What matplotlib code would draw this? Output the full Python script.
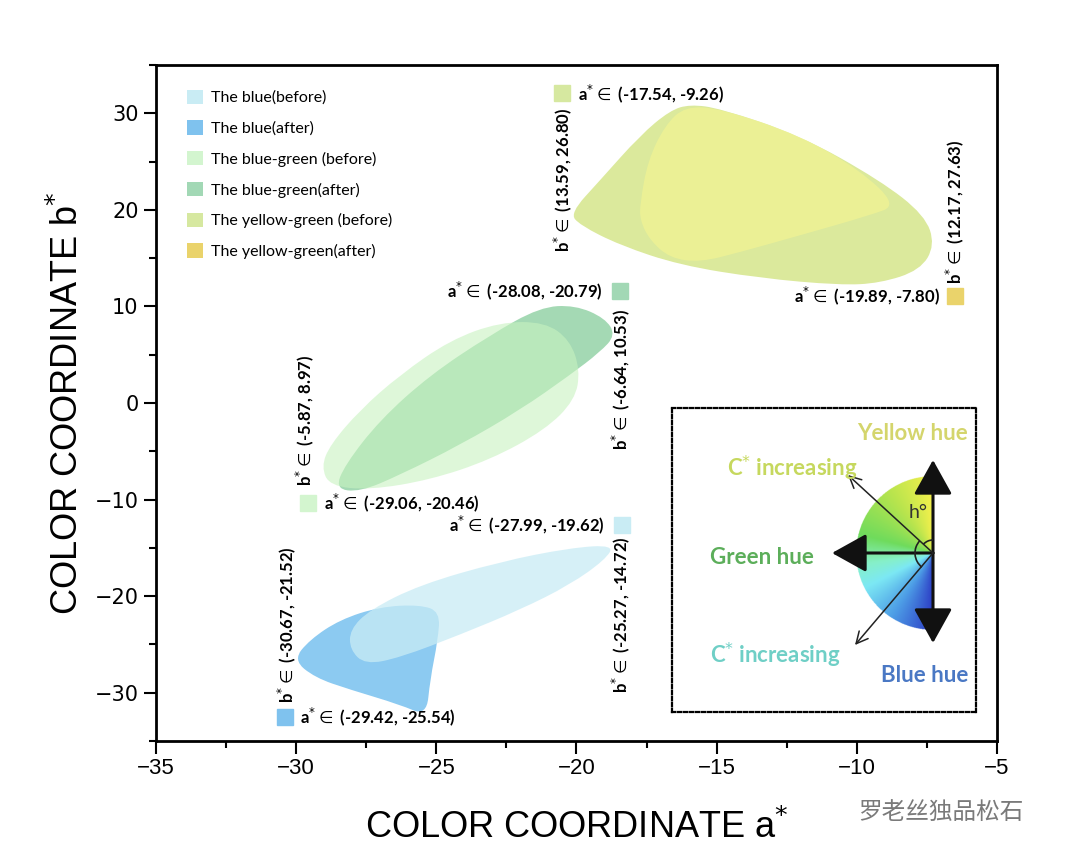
import matplotlib
matplotlib.use("Agg")
import matplotlib.pyplot as plt
import numpy as np
from matplotlib.patches import Patch, Arc, FancyArrowPatch, PathPatch
from matplotlib.path import Path
from matplotlib.colors import LinearSegmentedColormap

# ---- region outlines (a*, b*) ----
yg_before_a = [-20.23, -19.16, -17.73, -16.66, -15.95, -14.88, -12.02, -9.17, -7.57,
               -7.21, -7.74, -9.17, -10.60, -13.45, -16.31, -18.45, -19.87]
yg_before_b = [19.65, 23.06, 27.71, 30.30, 30.92, 30.51, 27.71, 23.06, 19.44,
               16.34, 13.75, 12.41, 12.20, 12.93, 14.27, 16.34, 18.41]
yg_after_a = [-17.73, -17.45, -16.84, -16.13, -14.88, -12.02, -9.88, -8.56, -9.53,
              -12.02, -14.17, -15.59, -16.66, -17.38, -17.73]
yg_after_b = [20.68, 25.13, 28.75, 30.71, 30.51, 27.71, 24.10, 20.48, 19.44,
              17.37, 15.62, 14.58, 15.00, 16.86, 18.92]

bg_before_a = [-29.10, -28.79, -27.72, -26.30, -24.51, -22.73, -21.12, -20.23, -19.87,
               -20.05, -21.12, -23.08, -25.22, -27.37, -28.80]
bg_before_b = [-6.60, -4.34, -0.72, 2.90, 6.51, 8.38, 8.38, 6.51, 3.41,
               0.31, -2.79, -5.89, -7.96, -9.00, -8.60]
bg_after_a = [-28.60, -28.26, -27.01, -25.22, -23.08, -21.30, -20.05, -18.98, -18.60,
              -19.16, -20.23, -22.01, -24.15, -26.30, -27.72]
bg_after_b = [-8.90, -6.41, -1.76, 2.90, 7.03, 9.93, 10.13, 8.79, 7.03,
              5.27, 2.90, -0.72, -4.34, -7.45, -9.20]

blue_before_a = [-28.08, -27.37, -25.58, -22.73, -20.23, -18.65, -18.98, -20.23, -22.01,
                 -24.15, -26.30, -27.54, -28.08]
blue_before_b = [-23.47, -21.41, -18.82, -16.44, -15.00, -14.70, -16.24, -18.82, -21.41,
                 -23.99, -26.37, -27.09, -25.54]
blue_after_a = [-30.10, -29.51, -28.44, -27.01, -25.58, -24.87, -24.94, -25.22, -25.35,
                -26.30, -28.08, -29.33]
blue_after_b = [-26.60, -24.51, -22.44, -21.10, -20.89, -21.61, -24.51, -28.65, -32.40,
                -31.23, -29.68, -28.44]

legend_labels = ["The blue(before)", "The blue(after)", "The blue-green (before)",
                 "The blue-green(after)", "The yellow-green (before)", "The yellow-green(after)"]
legend_colors = ["#c9ecf4", "#7fc2ee", "#d3f5cf", "#a2d8b5", "#d6e8a0", "#ead36b"]

# range labels: text, a, b, rotation, ha, square colour (or None), square a
range_labels = [
    ("a$^{*}\\in$ (-17.54, -9.26)", -19.94, 32.06, 0, "left", "#d6e8a0", -20.52),
    ("b$^{*}\\in$ (13.59, 26.80)", -20.48, 23.06, 90, "center", None, None),
    ("b$^{*}\\in$ (12.17, 27.63)", -6.49, 19.75, 90, "center", None, None),
    ("a$^{*}\\in$ (-19.89, -7.80)", -7.03, 11.07, 0, "right", "#ead36b", -6.50),
    ("a$^{*}\\in$ (-28.08, -20.79)", -19.05, 11.58, 0, "right", "#a2d8b5", -18.45),
    ("b$^{*}\\in$ (-6.64, 10.53)", -18.41, 2.38, 90, "center", None, None),
    ("b$^{*}\\in$ (-5.87, 8.97)", -29.68, -1.76, 90, "center", None, None),
    ("a$^{*}\\in$ (-29.06, -20.46)", -29.01, -10.34, 0, "left", "#d3f5cf", -29.58),
    ("a$^{*}\\in$ (-27.99, -19.62)", -18.98, -12.62, 0, "right", "#c9ecf4", -18.37),
    ("b$^{*}\\in$ (-25.27, -14.72)", -18.41, -21.92, 90, "center", None, None),
    ("b$^{*}\\in$ (-30.67, -21.52)", -30.33, -22.96, 90, "center", None, None),
    ("a$^{*}\\in$ (-29.42, -25.54)", -29.86, -32.47, 0, "left", "#7fc2ee", -30.40),
]

x_ticks = [-35, -30, -25, -20, -15, -10, -5]
y_ticks = [-30, -20, -10, 0, 10, 20, 30]


def smooth_patch(a, b, **kw):
    # closed quadratic-bezier outline using the read points as control points
    pts = np.column_stack([a, b])
    mids = (pts + np.roll(pts, -1, axis=0)) / 2
    verts = [mids[-1]]
    codes = [Path.MOVETO]
    for i in range(len(pts)):
        verts += [pts[i], mids[i]]
        codes += [Path.CURVE3, Path.CURVE3]
    return PathPatch(Path(verts, codes), **kw)


fig = plt.figure(figsize=(10.8, 8.61), dpi=100)
ax = fig.add_axes([0.1444, 0.1394, 0.7787, 0.7851])

# regions
ax.add_patch(smooth_patch(blue_after_a, blue_after_b, fc="#8ccaf1", lw=0, zorder=2))
ax.add_patch(smooth_patch(blue_before_a, blue_before_b, fc="#c9ecf5", alpha=0.75, lw=0, zorder=3))
ax.add_patch(smooth_patch(bg_after_a, bg_after_b, fc="#a4d9b4", lw=0, zorder=2))
ax.add_patch(smooth_patch(bg_before_a, bg_before_b, fc="#c8f3c0", alpha=0.6, lw=0, zorder=3))
ax.add_patch(smooth_patch(yg_before_a, yg_before_b, fc="#dbe99c", lw=0, zorder=2))
ax.add_patch(smooth_patch(yg_after_a, yg_after_b, fc="#eef294", alpha=0.85, lw=0, zorder=3))

lab_font = ["Lato", "DejaVu Sans"]
for txt, a, b, rot, ha, sq, sqa in range_labels:
    ax.text(a, b, txt, rotation=rot, ha=ha, va="center", fontsize=12,
            fontweight="bold", family=lab_font, zorder=5)
    if sq is not None:
        ax.plot([sqa], [b], marker="s", ms=11, color=sq, ls="none", zorder=5)

handles = [Patch(facecolor=c, edgecolor="none") for c in legend_colors]
leg = ax.legend(handles, legend_labels, loc="upper left", bbox_to_anchor=(0.02, 0.985),
                frameon=False, handlelength=1.0, handleheight=1.0, handletextpad=0.5,
                labelspacing=0.95, prop={"family": "Lato", "size": 11.5})

ax.set_xlim(-35, -5)
ax.set_ylim(-35, 35)
ax.set_xticks(x_ticks)
ax.set_yticks(y_ticks)
ax.set_xticks(np.arange(-32.5, -5, 5), minor=True)
ax.set_yticks(np.arange(-35, 36, 10), minor=True)
ax.tick_params(which="major", direction="out", length=9, width=1.5, labelsize=15)
ax.tick_params(which="minor", direction="out", length=5, width=1.5)
for s in ax.spines.values():
    s.set_linewidth(2)
for t in ax.get_xticklabels():
    t.set_family(["Liberation Sans", "DejaVu Sans"])
    t.set_fontsize(16)
ax.set_xlabel("COLOR COORDINATE a$^{*}$", fontsize=26, family=["Liberation Sans", "DejaVu Sans"],
              labelpad=22)
ax.set_ylabel("COLOR COORDINATE b$^{*}$", fontsize=26, family=["Liberation Sans", "DejaVu Sans"],
              labelpad=6)

# ---- hue diagram inset ----
ins = fig.add_axes([672 / 1080, 1 - 712 / 861, 304 / 1080, 304 / 861])
ins.set_xlim(0, 304)
ins.set_ylim(0, 304)
ins.set_xticks([])
ins.set_yticks([])
for s in ins.spines.values():
    s.set_linestyle((0, (1.5, 1.2)))
    s.set_linewidth(1.6)
ins.patch.set_alpha(0)

cx, cy, r = 261, 159, 77
hue_cmap = LinearSegmentedColormap.from_list(
    "hue", [(0, "#f4f04c"), (0.2, "#b6e44e"), (0.42, "#6fdb5c"), (0.55, "#86f0c8"),
            (0.65, "#7ce8f4"), (0.82, "#4d9de6"), (1, "#2d3fc6")])
gx, gy = np.meshgrid(np.linspace(cx - r, cx, 200), np.linspace(cy - r, cy + r, 400))
theta = np.arctan2(cx - gx, gy - cy) / np.pi
img = hue_cmap(np.clip(theta, 0, 1))
img[..., 3] = np.where((gx - cx) ** 2 + (gy - cy) ** 2 <= r ** 2, 1, 0)
ins.imshow(img, extent=(cx - r, cx, cy - r, cy + r), origin="lower", zorder=1, aspect="auto")

big = dict(arrowstyle="-|>,head_length=0.9,head_width=0.5", mutation_scale=24,
           color="#111111", lw=2.2, shrinkA=0, shrinkB=0, zorder=3)
ins.add_patch(FancyArrowPatch((cx, cy), (cx, 252), **big))
ins.add_patch(FancyArrowPatch((cx, cy), (cx, 69), **big))
ins.add_patch(FancyArrowPatch((cx, cy), (160, cy), **big))
thin = dict(arrowstyle="->,head_length=0.6,head_width=0.3", mutation_scale=14,
            color="#222222", lw=1.1, shrinkA=0, shrinkB=0, zorder=3)
ins.add_patch(FancyArrowPatch((cx, cy), (176, 237), **thin))
ins.add_patch(FancyArrowPatch((cx, cy), (183, 67), **thin))
ins.add_patch(Arc((cx, cy), 26, 26, theta1=90, theta2=137, lw=1.2, color="#222222", zorder=3))
ins.add_patch(Arc((cx, cy), 36, 36, theta1=137, theta2=232, lw=1.2, color="#222222", zorder=3))
ins.text(246, 199, "h°", fontsize=14, ha="center", va="center", color="#333333", family="Lato")

hue_font = ["Lato", "DejaVu Sans"]
ins.text(296, 279, "Yellow hue", fontsize=16, fontweight="bold", color="#d4d56c",
         ha="right", va="center", family=hue_font)
ins.text(55, 244, "C$^{*}$ increasing", fontsize=16, fontweight="bold", color="#c6d85e",
         ha="left", va="center", family=hue_font)
ins.text(38, 155, "Green hue", fontsize=16, fontweight="bold", color="#5cae5a",
         ha="left", va="center", family=hue_font)
ins.text(38, 57, "C$^{*}$ increasing", fontsize=16, fontweight="bold", color="#6fcfc6",
         ha="left", va="center", family=hue_font)
ins.text(296, 36, "Blue hue", fontsize=16, fontweight="bold", color="#4a78c4",
         ha="right", va="center", family=hue_font)

# watermark
fig.text(858 / 1080, 1 - 812 / 861, "罗老丝独品松石", fontsize=17, color="#7a7a7a",
         ha="left", va="center", family=["Noto Sans CJK SC", "DejaVu Sans"])

fig.savefig("out.png", dpi=100)
